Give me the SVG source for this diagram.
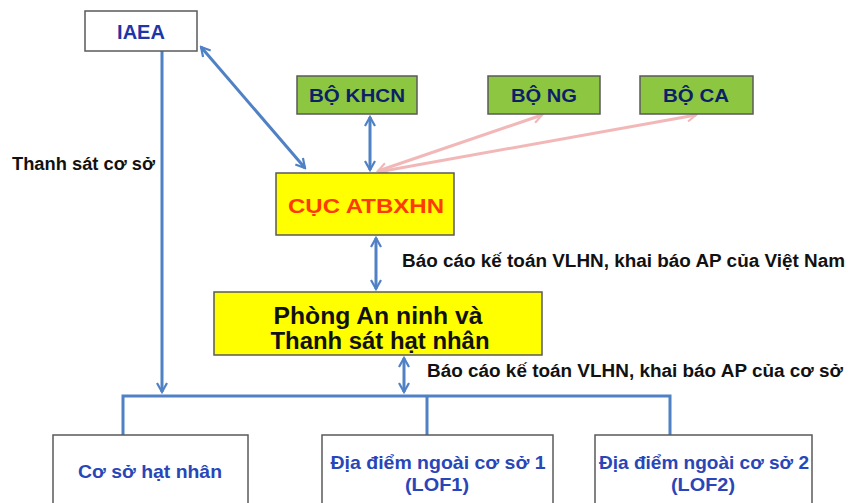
<svg xmlns="http://www.w3.org/2000/svg" width="848" height="503" viewBox="0 0 848 503">
<style>
.box{stroke:#5a5a5a;stroke-width:1.5}
.w{fill:#ffffff}
.g{fill:#8dc641}
.y{fill:#ffff00}
.t{font-family:"Liberation Sans",Arial,sans-serif;font-weight:bold;text-anchor:middle}
.lbl{font-family:"Liberation Sans",Arial,sans-serif;font-weight:bold;fill:#111}
.blue{stroke:#4f81c4;stroke-width:3;fill:none}
.pink{stroke:#f2b8b8;stroke-width:3;fill:none}
</style>
<defs>
<marker id="ab" viewBox="0 0 12 12" refX="10" refY="6" markerWidth="4" markerHeight="4" orient="auto-start-reverse" markerUnits="strokeWidth">
<path d="M1,1 L10,6 L1,11" fill="none" stroke="#4f81c4" stroke-width="2.2"/>
</marker>
<marker id="ap" viewBox="0 0 12 12" refX="10" refY="6" markerWidth="4" markerHeight="4" orient="auto-start-reverse" markerUnits="strokeWidth">
<path d="M1,1 L10,6 L1,11" fill="none" stroke="#f2b8b8" stroke-width="2.2"/>
</marker>
</defs>
<rect width="848" height="503" fill="#ffffff"/>
<g id="connectors">
<line class="blue" x1="162" y1="51" x2="162" y2="392" marker-end="url(#ab)"/>
<line class="blue" x1="201" y1="47" x2="305" y2="168" marker-start="url(#ab)" marker-end="url(#ab)"/>
<line class="blue" x1="370" y1="117" x2="370" y2="170" marker-start="url(#ab)" marker-end="url(#ab)"/>
<line class="pink" x1="378" y1="171" x2="542" y2="115" marker-start="url(#ap)" marker-end="url(#ap)"/>
<line class="pink" x1="378" y1="172" x2="696" y2="115" marker-end="url(#ap)"/>
<line class="blue" x1="376" y1="238" x2="376" y2="289" marker-start="url(#ab)" marker-end="url(#ab)"/>
<line class="blue" x1="404" y1="358" x2="404" y2="392" marker-start="url(#ab)" marker-end="url(#ab)"/>
<polyline class="blue" points="123,435 123,396 670,396 670,435"/>
<line class="blue" x1="427" y1="396" x2="427" y2="435"/>
</g>
<g id="labels">
<text class="lbl" x="12" y="170" font-size="18" textLength="143" lengthAdjust="spacingAndGlyphs">Thanh sát cơ sở</text>
<text class="lbl" x="402" y="267" font-size="18" textLength="443" lengthAdjust="spacingAndGlyphs">Báo cáo kế toán VLHN, khai báo AP của Việt Nam</text>
<text class="lbl" x="427" y="377" font-size="18" textLength="416" lengthAdjust="spacingAndGlyphs">Báo cáo kế toán VLHN, khai báo AP của cơ sở</text>
</g>
<g id="iaea">
<rect class="box w" x="85" y="11" width="112" height="40"/>
<text class="t" x="141" y="39" font-size="20" fill="#1f35a8">IAEA</text>
</g>
<g id="bo-khcn">
<rect class="box g" x="297" y="76" width="120" height="38"/>
<text class="t" x="357" y="102" font-size="18" fill="#0d1f66" textLength="96" lengthAdjust="spacingAndGlyphs">BỘ KHCN</text>
</g>
<g id="bo-ng">
<rect class="box g" x="488" y="76" width="112" height="38"/>
<text class="t" x="544" y="102" font-size="18" fill="#0d1f66" textLength="66" lengthAdjust="spacingAndGlyphs">BỘ NG</text>
</g>
<g id="bo-ca">
<rect class="box g" x="640" y="76" width="113" height="38"/>
<text class="t" x="696" y="102" font-size="18" fill="#0d1f66" textLength="66" lengthAdjust="spacingAndGlyphs">BỘ CA</text>
</g>
<g id="cuc">
<rect class="box y" x="276" y="173" width="178" height="62"/>
<text class="t" x="366" y="213" font-size="21" fill="#ff3a00" textLength="156" lengthAdjust="spacingAndGlyphs">CỤC ATBXHN</text>
</g>
<g id="phong">
<rect class="box y" x="214" y="292" width="328" height="63"/>
<text class="t" x="378" y="324" font-size="23" fill="#111" textLength="209" lengthAdjust="spacingAndGlyphs">Phòng An ninh và</text>
<text class="t" x="380" y="349" font-size="23" fill="#111" textLength="219" lengthAdjust="spacingAndGlyphs">Thanh sát hạt nhân</text>
</g>
<g id="co-so">
<rect class="box w" x="53" y="435" width="195" height="80"/>
<text class="t" x="150" y="478" font-size="19" fill="#2846b8" textLength="144" lengthAdjust="spacingAndGlyphs">Cơ sở hạt nhân</text>
</g>
<g id="lof1">
<rect class="box w" x="322" y="435" width="231" height="80"/>
<text class="t" x="438" y="469" font-size="19" fill="#2846b8" textLength="215" lengthAdjust="spacingAndGlyphs">Địa điểm ngoài cơ sở 1</text>
<text class="t" x="437" y="491" font-size="19" fill="#2846b8" textLength="64" lengthAdjust="spacingAndGlyphs">(LOF1)</text>
</g>
<g id="lof2">
<rect class="box w" x="595" y="435" width="217" height="80"/>
<text class="t" x="704" y="469" font-size="19" fill="#2846b8" textLength="210" lengthAdjust="spacingAndGlyphs">Địa điểm ngoài cơ sở 2</text>
<text class="t" x="703" y="491" font-size="19" fill="#2846b8" textLength="64" lengthAdjust="spacingAndGlyphs">(LOF2)</text>
</g>
</svg>
